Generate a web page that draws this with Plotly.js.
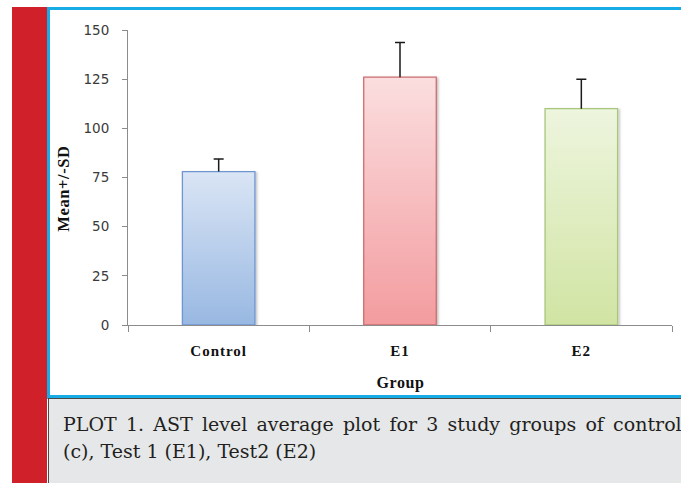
<!DOCTYPE html>
<html>
<head>
<meta charset="utf-8">
<script src="https://cdn.plot.ly/plotly-3.0.1.min.js"></script>
<style>
  html, body { margin:0; padding:0; }
  body { width:681px; height:483px; overflow:hidden; background:#fff; position:relative; }
  #red { position:absolute; left:12px; top:7px; width:35px; height:476px; background:#d0212a; }
  #fTop { position:absolute; left:47px; top:7px; right:0; height:3px; background:#17ace6; }
  #fLeft { position:absolute; left:47px; top:7px; width:3px; height:392px; background:#17ace6; }
  #fBottom { position:absolute; left:47px; top:395px; right:0; height:3px; background:#17ace6; }
  #caption { position:absolute; left:48px; top:398px; right:0; bottom:0; background:#e6e7e8;
             border-top:1px solid #4a4a4a; border-left:1px solid #4a4a4a;
             padding:12px 0 0 14px; box-sizing:border-box; overflow:hidden;
             font-family:"DejaVu Serif", serif; font-size:19px; line-height:27px; color:#231f20; }
  #caption div { white-space:nowrap; }
  #cap1 { word-spacing:3.2px; }
  #chart { position:absolute; left:0; top:0; width:681px; height:483px; }
  #chart .xtick text { letter-spacing:1px; }
  #chart .annotation text { letter-spacing:0.6px; }
</style>
</head>
<body>
<div id="red"></div>
<div id="fTop"></div>
<div id="fLeft"></div>
<div id="fBottom"></div>
<div id="caption">
  <div id="cap1">PLOT 1. AST level average plot for 3 study groups of control</div>
  <div id="cap2">(c), Test 1 (E1), Test2 (E2)</div>
</div>
<div id="chart"></div>
<script>
const categories = ['Control', 'E1', 'E2'];
const means = [78, 126, 110];
const sds = [6.4, 17.7, 15];
const yTickValues = [0, 25, 50, 75, 100, 125, 150];
const fillColors = ['#bcd0ee', '#f8c4c5', '#e2eec9'];
const lineColors = ['#6f96d1', '#cc6f70', '#a7c77c'];
const gradTop = ['#dae5f5', '#fbdedf', '#edf5de'];
const gradBottom = ['#98b8e2', '#f39c9f', '#d1e4a3'];

const trace = {
  type: 'bar',
  x: categories,
  y: means,
  width: 0.4,
  marker: { color: fillColors, line: { color: lineColors, width: 1.3 } },
  error_y: { type: 'data', array: sds, symmetric: false, arrayminus: [0, 0, 0],
             color: '#1a1a1a', thickness: 1.5, width: 5 },
  hoverinfo: 'none'
};

const layout = {
  width: 681, height: 483,
  margin: { l: 128, r: 9, t: 30, b: 158 },
  paper_bgcolor: 'rgba(0,0,0,0)',
  plot_bgcolor: 'rgba(0,0,0,0)',
  showlegend: false,
  xaxis: {
    type: 'category',
    range: [-0.5, 2.5],
    showline: true, linecolor: '#8c8c8c', linewidth: 1,
    ticks: 'outside', tickson: 'boundaries', ticklen: 6, tickcolor: '#8c8c8c', tickwidth: 1,
    showgrid: false, zeroline: false,
    ticklabelstandoff: 12,
    tickfont: { family: 'Liberation Serif, serif', size: 15, color: '#111', weight: 'bold' },
    fixedrange: true
  },
  yaxis: {
    range: [0, 150],
    tickvals: yTickValues,
    ticktext: yTickValues.map(String),
    showline: true, linecolor: '#8c8c8c', linewidth: 1,
    ticks: 'outside', ticklen: 5, tickcolor: '#8c8c8c', tickwidth: 1,
    showgrid: false, zeroline: false,
    ticklabelstandoff: 10,
    tickfont: { family: 'DejaVu Sans, sans-serif', size: 13.5, color: '#3a3a3a' },
    fixedrange: true
  },
  annotations: [
    { text: 'Group', xref: 'paper', yref: 'paper', x: 0.5, y: (325 - 383) / 295,
      xanchor: 'center', yanchor: 'middle', showarrow: false,
      font: { family: 'Liberation Serif, serif', size: 16, color: '#111', weight: 'bold' } },
    { text: 'Mean+/-SD', xref: 'paper', yref: 'paper', x: (64 - 128) / 544, y: (325 - 189) / 295,
      xanchor: 'center', yanchor: 'middle', showarrow: false, textangle: -90,
      font: { family: 'Liberation Serif, serif', size: 16.5, color: '#111', weight: 'bold' } }
  ]
};

Plotly.newPlot('chart', [trace], layout, { staticPlot: true, displayModeBar: false }).then(function (gd) {
  const NS = 'http://www.w3.org/2000/svg';
  const svg = gd.querySelector('.main-svg');
  let defs = svg.querySelector('defs');
  if (!defs) { defs = document.createElementNS(NS, 'defs'); svg.insertBefore(defs, svg.firstChild); }
  const filt = document.createElementNS(NS, 'filter');
  filt.setAttribute('id', 'barShadow');
  filt.setAttribute('x', '-10%'); filt.setAttribute('y', '-10%');
  filt.setAttribute('width', '130%'); filt.setAttribute('height', '130%');
  const ds = document.createElementNS(NS, 'feDropShadow');
  ds.setAttribute('dx', '1.5'); ds.setAttribute('dy', '1');
  ds.setAttribute('stdDeviation', '1.2');
  ds.setAttribute('flood-color', '#000'); ds.setAttribute('flood-opacity', '0.25');
  filt.appendChild(ds);
  defs.appendChild(filt);
  categories.forEach(function (c, i) {
    const g = document.createElementNS(NS, 'linearGradient');
    g.setAttribute('id', 'barGrad' + i);
    g.setAttribute('x1', '0'); g.setAttribute('y1', '0');
    g.setAttribute('x2', '0'); g.setAttribute('y2', '1');
    const s1 = document.createElementNS(NS, 'stop');
    s1.setAttribute('offset', '0'); s1.setAttribute('stop-color', gradTop[i]);
    const s2 = document.createElementNS(NS, 'stop');
    s2.setAttribute('offset', '1'); s2.setAttribute('stop-color', gradBottom[i]);
    g.appendChild(s1); g.appendChild(s2);
    defs.appendChild(g);
  });
  gd.querySelectorAll('.trace.bars .point path').forEach(function (p, i) {
    p.style.fill = 'url(#barGrad' + i + ')';
    p.style.filter = 'url(#barShadow)';
  });
  // upper-only error bars: drop the lower cap that Plotly draws at the bar top
  gd.querySelectorAll('.errorbar path.yerror').forEach(function (p) {
    const d = p.getAttribute('d') || '';
    p.setAttribute('d', d.replace(/m-[\d.]+,0h[\d.]+\s*$/, ''));
  });
});
</script>
</body>
</html>
